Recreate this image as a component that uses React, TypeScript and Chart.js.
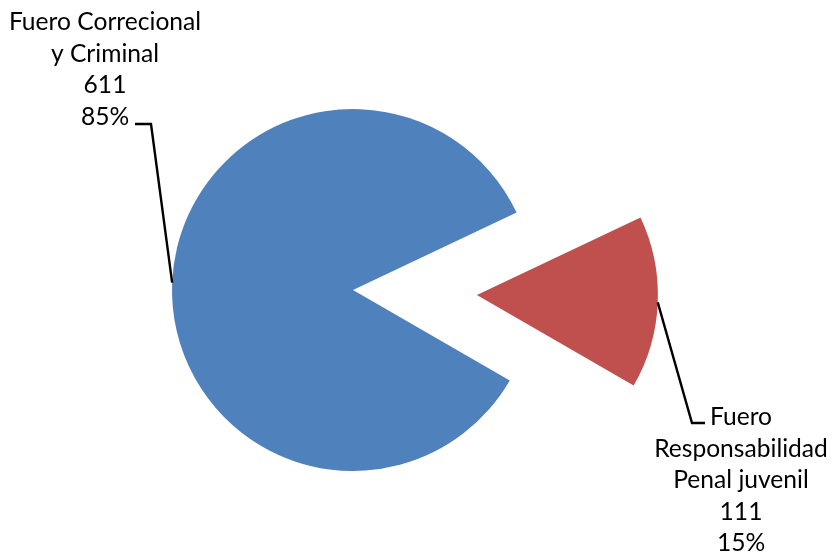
import React, { useEffect, useRef } from "react";
import { Chart, registerables } from "chart.js";

Chart.register(...registerables);

const categories: string[][] = [
  ["Fuero Correcional", "y Criminal"],
  ["Fuero", "Responsabilidad", "Penal juvenil"],
];
const values: number[] = [611, 111];
const colors: string[] = ["#4F81BD", "#C0504D"];
const explode: number[] = [0, 124];

const FONT = "Lato";
const FONT_SIZE = 24.6;
const LINE_H = 31.6;

// label layout: center x, first baseline y, leader bend points (label side)
const labelLayout = [
  { cx: 105, top: 30, bend: [151, 124], end: [135, 124] },
  { cx: 741, top: 425, bend: [692, 423], end: [705, 423] },
];

const labelPlugin = {
  id: "pieLabels",
  afterDatasetUpdate(chart: any, args: any) {
    const meta = chart.getDatasetMeta(args.index);
    meta.data.forEach((arc: any, i: number) => {
      const d = explode[i] || 0;
      if (!d) return;
      const mid = (arc.startAngle + arc.endAngle) / 2;
      arc.x += Math.cos(mid) * d;
      arc.y += Math.sin(mid) * d;
    });
  },
  afterDatasetsDraw(chart: any) {
    const ctx = chart.ctx;
    const meta = chart.getDatasetMeta(0);
    const total = values.reduce((a, b) => a + b, 0);
    ctx.save();
    meta.data.forEach((arc: any, i: number) => {
      const mid = (arc.startAngle + arc.endAngle) / 2;
      const px = arc.x + Math.cos(mid) * arc.outerRadius;
      const py = arc.y + Math.sin(mid) * arc.outerRadius;
      const lay = labelLayout[i];
      ctx.strokeStyle = "#000";
      ctx.lineWidth = 2.4;
      ctx.lineJoin = "miter";
      ctx.beginPath();
      ctx.moveTo(px, py);
      ctx.lineTo(lay.bend[0], lay.bend[1]);
      ctx.lineTo(lay.end[0], lay.end[1]);
      ctx.stroke();

      const lines = [
        ...categories[i],
        String(values[i]),
        Math.round((values[i] / total) * 100) + "%",
      ];
      ctx.fillStyle = "#000";
      ctx.font = `${FONT_SIZE}px ${FONT}`;
      ctx.textAlign = "center";
      ctx.textBaseline = "alphabetic";
      lines.forEach((t, k) => {
        ctx.fillText(t, lay.cx, lay.top + k * LINE_H);
      });
    });
    ctx.restore();
  },
};

export default function App() {
  const ref = useRef<HTMLCanvasElement | null>(null);
  useEffect(() => {
    if (!ref.current) return;
    const chart = new Chart(ref.current, {
      type: "pie",
      data: {
        labels: categories.map((c) => c.join(" ")),
        datasets: [
          {
            data: values,
            backgroundColor: colors,
            borderWidth: 0,
          },
        ],
      },
      options: {
        responsive: true,
        maintainAspectRatio: false,
        animation: false,
        rotation: 120,
        radius: 181,
        layout: { padding: { left: 0, right: 127, top: 26, bottom: 0 } },
        plugins: {
          legend: { display: false },
          tooltip: { enabled: false },
        },
      },
      plugins: [labelPlugin],
    });
    return () => chart.destroy();
  }, []);
  return (
    <div style={{ position: "absolute", left: 0, top: 0, width: 833, height: 554, background: "#fff" }}>
      <canvas ref={ref} />
    </div>
  );
}
